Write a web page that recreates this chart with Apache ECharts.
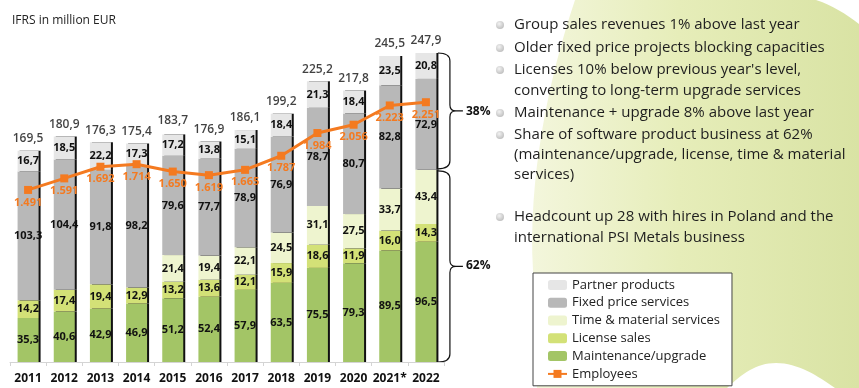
<!DOCTYPE html>
<html>
<head>
<meta charset="utf-8">
<script src="https://cdn.jsdelivr.net/npm/echarts@6/dist/echarts.min.js"></script>
<style>
  html, body { margin: 0; padding: 0; background: #fff; }
  #chart { width: 859px; height: 388px; }
</style>
</head>
<body>
<div id="chart"></div>
<script>
const years = ['2011','2012','2013','2014','2015','2016','2017','2018','2019','2020','2021*','2022'];
const maintenance = [35.3,40.6,42.9,46.9,51.2,52.4,57.9,63.5,75.5,79.3,89.5,96.5];
const license = [14.2,17.4,19.4,12.9,13.2,13.6,12.1,15.9,18.6,11.9,16.0,14.3];
const timeMaterial = [0,0,0,0,21.4,19.4,22.1,24.5,31.1,27.5,33.7,43.4];
const fixedPrice = [103.3,104.4,91.8,98.2,79.6,77.7,78.9,76.9,78.7,80.7,82.8,72.9];
const partner = [16.7,18.5,22.2,17.3,17.2,13.8,15.1,18.4,21.3,18.4,23.5,20.8];
const totals = [169.5,180.9,176.3,175.4,183.7,176.9,186.1,199.2,225.2,217.8,245.5,247.9];
const employees = [1491,1591,1692,1714,1650,1619,1665,1787,1984,2056,2223,2251];
const shareLabels = ['38%', '62%'];
const bullets = [
  ['Group sales revenues 1% above last year'],
  ['Older fixed price projects blocking capacities'],
  ["Licenses 10% below previous year's level,", 'converting to long-term upgrade services'],
  ['Maintenance + upgrade 8% above last year'],
  ['Share of software product business at 62%', '(maintenance/upgrade, license, time & material', 'services)'],
  ['Headcount up 28 with hires in Poland and the', 'international PSI Metals business']
];

const FONT = '"Open Sans", "Noto Sans", sans-serif';
const fmtDec = v => v.toFixed(1).replace('.', ',');
const fmtThousand = v => String(v).replace(/\B(?=(\d{3})+(?!\d))/g, '.');

const chart = echarts.init(document.getElementById('chart'), null, { renderer: 'canvas' });

const barBase = {
  type: 'bar',
  stack: 'rev',
  barWidth: 21,
  label: {
    show: true,
    position: 'inside',
    color: '#111',
    fontFamily: FONT,
    fontSize: 11,
    fontWeight: 'bold',
    formatter: p => (p.value > 0 ? fmtDec(p.value) : '')
  }
};
function mkBar(name, data, color) {
  return Object.assign({}, barBase, {
    name: name,
    data: data,
    itemStyle: { color: color, shadowColor: '#111', shadowOffsetX: 2, shadowOffsetY: 0, shadowBlur: 0 }
  });
}

const sumAt = (i, arrs) => arrs.reduce((s, a) => s + a[i], 0);
const last = years.length - 1;

function bracePath(x0, yt, yb) {
  const xv = x0 + 12, xt = x0 + 25, ym = (yt + yb) / 2;
  return `M${x0},${yt} Q${xv},${yt} ${xv},${yt + 8} L${xv},${ym - 6} Q${xv},${ym} ${xv + 6},${ym} L${xt},${ym} ` +
         `M${xv + 6},${ym} Q${xv},${ym} ${xv},${ym + 6} L${xv},${yb - 8} Q${xv},${yb} ${x0},${yb}`;
}

function renderAnnotations(params, api) {
  const children = [];
  children.push({
    type: 'path',
    shape: { pathData: 'M575,0 C548,80 528,180 533,270 L537,388 L727,388 C742,374 756,363 776,363 C798,363 818,376 835,388 L859,388 L859,24 C846,14 832,5 816,0 Z' },
    style: {
      fill: new echarts.graphic.LinearGradient(0, 0, 1, 0, [
        { offset: 0, color: '#f3f6dc' },
        { offset: 0.45, color: '#e6edb9' },
        { offset: 1, color: '#d9e3a4' }
      ])
    }
  });
  const lineYs = [[25], [48], [70, 91], [113], [135, 155, 175], [217, 238]];
  bullets.forEach((lines, i) => {
    const ys = lineYs[i];
    children.push({
      type: 'circle',
      shape: { cx: 500, cy: ys[0], r: 4 },
      style: {
        fill: new echarts.graphic.RadialGradient(0.4, 0.35, 0.7, [
          { offset: 0, color: '#f2f2f2' }, { offset: 1, color: '#bdbdbd' }
        ])
      }
    });
    lines.forEach((t, j) => {
      children.push({
        type: 'text',
        style: { x: 514, y: ys[j], text: t, fill: '#1e1e1e', font: '15px ' + FONT, verticalAlign: 'middle', textVerticalAlign: 'middle', align: 'left' }
      });
    });
  });
  const top = api.coord([last, totals[last]]);
  const split = api.coord([last, sumAt(last, [maintenance, license, timeMaterial])]);
  const base = api.coord([last, 0]);
  const x0 = top[0] + 12;
  children.push({ type: 'path', shape: { pathData: bracePath(x0, top[1], split[1] - 1) }, style: { fill: 'none', stroke: '#111', lineWidth: 1.2 } });
  children.push({ type: 'path', shape: { pathData: bracePath(x0, split[1] + 1, base[1]) }, style: { fill: 'none', stroke: '#111', lineWidth: 1.2 } });
  children.push({ type: 'text', style: { x: x0 + 28, y: (top[1] + split[1]) / 2, text: shareLabels[0], fill: '#111', font: 'bold 12px ' + FONT, verticalAlign: 'middle', textVerticalAlign: 'middle' } });
  children.push({ type: 'text', style: { x: x0 + 28, y: (split[1] + base[1]) / 2, text: shareLabels[1], fill: '#111', font: 'bold 12px ' + FONT, verticalAlign: 'middle', textVerticalAlign: 'middle' } });
  return { type: 'group', children: children };
}

const option = {
  animation: false,
  backgroundColor: '#fff',
  title: {
    text: 'IFRS in million EUR',
    left: 7, top: 10,
    textStyle: { fontFamily: FONT, fontSize: 12, fontWeight: 'normal', color: '#222' }
  },
  grid: { left: 10, right: 415, top: 50.4, bottom: 26, containLabel: false },
  legend: {
    orient: 'vertical',
    left: 533, top: 273,
    padding: [3, 12, 3, 14],
    itemGap: 0,
    itemWidth: 19, itemHeight: 10,
    backgroundColor: '#fff',
    borderColor: '#444', borderWidth: 1,
    textStyle: { fontFamily: FONT, fontSize: 13, color: '#222', lineHeight: 17.8 },
    data: ['Partner products','Fixed price services','Time & material services','License sales','Maintenance/upgrade','Employees'],
    z: 10
  },
  xAxis: {
    type: 'category',
    data: years,
    axisLine: { lineStyle: { color: '#d4d4d4', width: 1 } },
    axisTick: { show: true, length: 4, lineStyle: { color: '#d4d4d4' } },
    axisLabel: { interval: 0, color: '#111', fontFamily: FONT, fontSize: 12, fontWeight: 'bold', margin: 11 }
  },
  yAxis: [
    { type: 'value', min: 0, max: 250, show: false, splitLine: { show: false } },
    { type: 'value', min: 0, max: 2700, show: false, splitLine: { show: false } }
  ],
  series: [
    {
      name: 'Annotations',
      type: 'custom',
      coordinateSystem: 'cartesian2d',
      data: [[last, 0]],
      renderItem: renderAnnotations,
      silent: true,
      clip: false,
      z: 0
    },
    mkBar('Maintenance/upgrade', maintenance, '#a3c566'),
    mkBar('License sales', license, '#d3e177'),
    mkBar('Time & material services', timeMaterial, '#eef4cf'),
    mkBar('Fixed price services', fixedPrice, '#b8b8b8'),
    mkBar('Partner products', partner, '#e6e6e6'),
    {
      name: 'Totals',
      type: 'scatter',
      data: totals,
      symbolSize: 0,
      silent: true,
      label: {
        show: true, position: 'top', distance: 6,
        color: '#111', fontFamily: FONT, fontSize: 12, fontWeight: 600,
        formatter: p => fmtDec(p.value)
      },
      z: 4
    },
    {
      name: 'Employees',
      type: 'line',
      yAxisIndex: 1,
      data: employees,
      color: '#f47a20',
      symbol: 'rect',
      symbolSize: 8,
      lineStyle: { color: '#f47a20', width: 3 },
      itemStyle: { color: '#f47a20' },
      label: {
        show: true, position: 'bottom', distance: 3,
        color: '#f47a20', fontFamily: FONT, fontSize: 11, fontWeight: 'bold',
        formatter: p => fmtThousand(p.value)
      },
      z: 6
    }
  ]
};
chart.setOption(option);
</script>
</body>
</html>
